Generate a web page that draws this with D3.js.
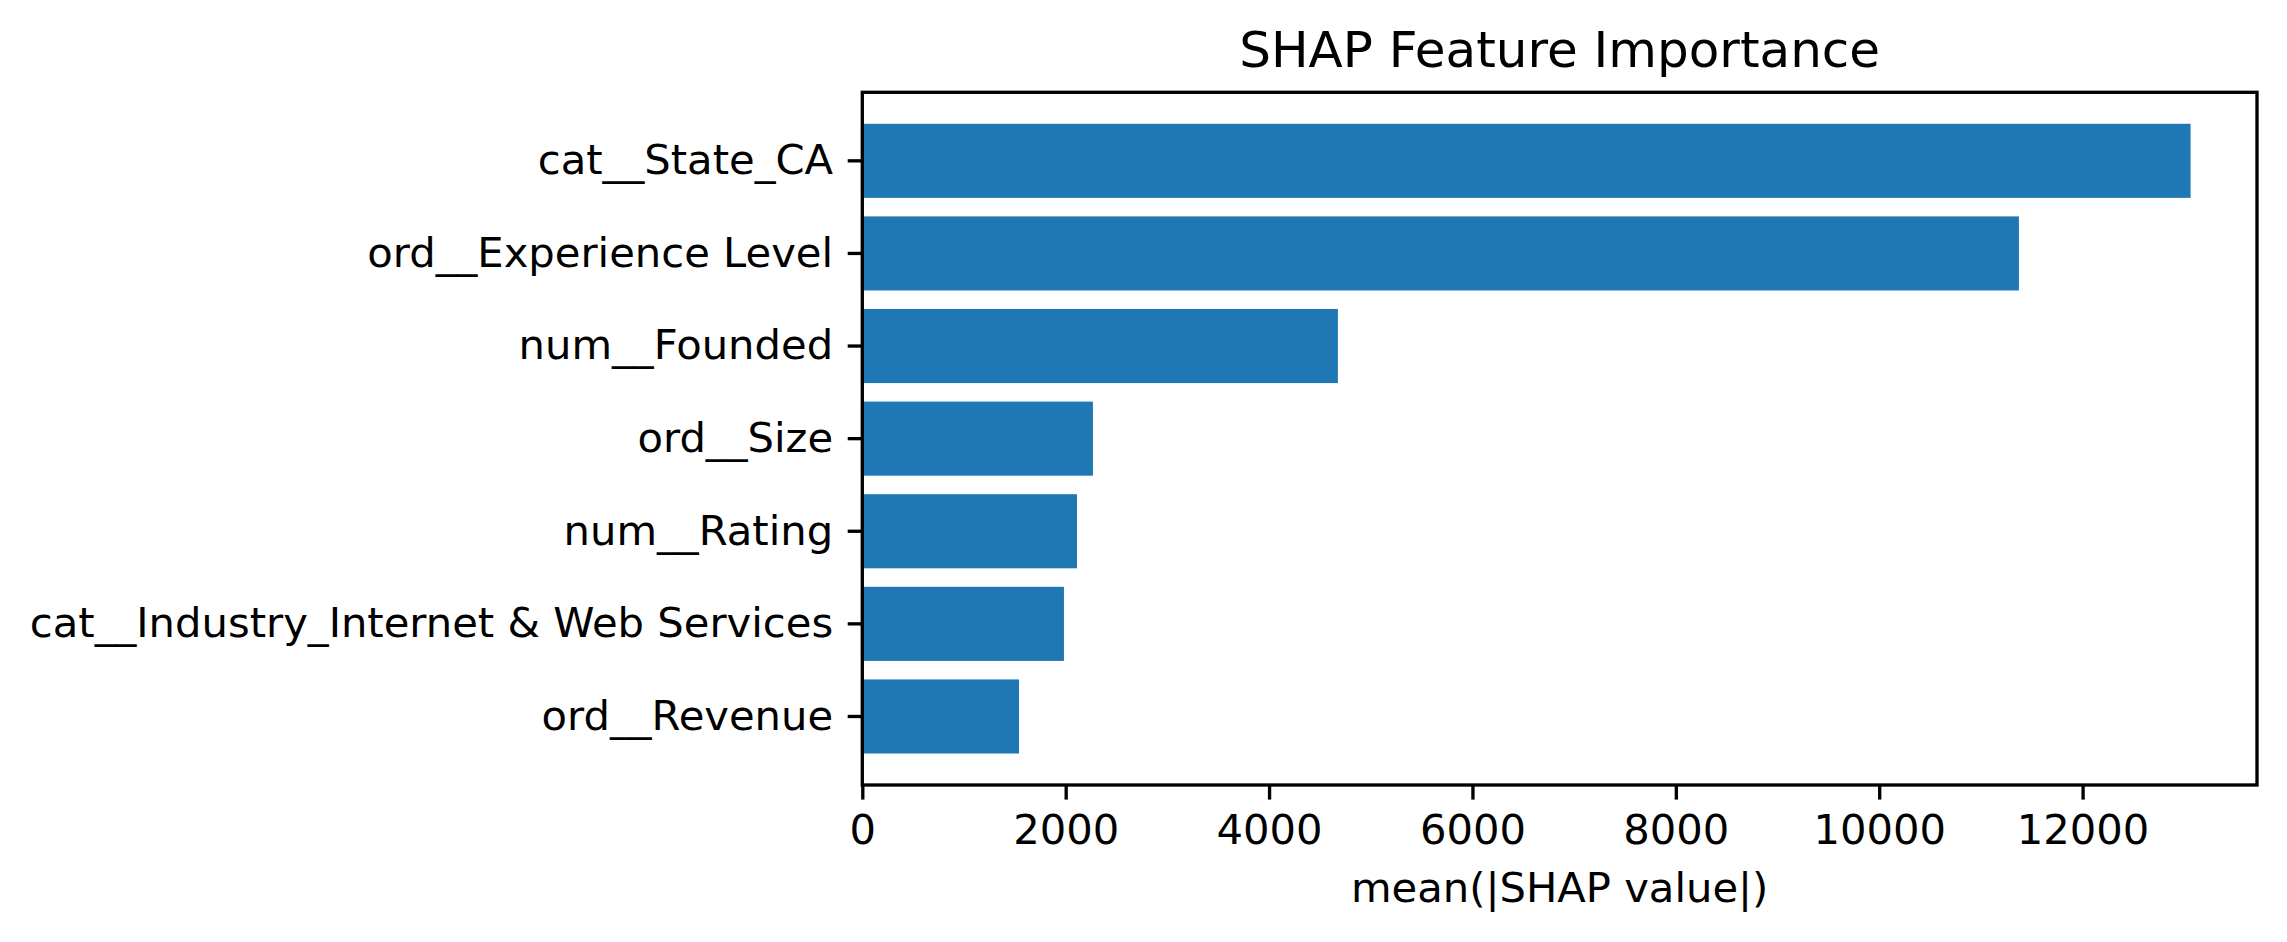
<!DOCTYPE html>
<html>
<head>
<meta charset="utf-8">
<script src="https://cdn.jsdelivr.net/npm/d3@7"></script>
<style>
  html, body { margin: 0; padding: 0; background: #fff; }
  text { font-family: "DejaVu Sans", sans-serif; fill: #000; }
</style>
</head>
<body>
<div id="chart"></div>
<script>
// feature names, top to bottom
var FEATURES = [
  'cat__State_CA',
  'ord__Experience Level',
  'num__Founded',
  'ord__Size',
  'num__Rating',
  'cat__Industry_Internet & Web Services',
  'ord__Revenue'
];
// mean(|SHAP value|) per feature
var VALUES = [13062, 11374, 4677, 2268, 2111, 1983, 1541];
var X_TICKS = [0, 2000, 4000, 6000, 8000, 10000, 12000];

var W = 2287, H = 942;
var margin = { top: 92.3, right: 30, bottom: 157, left: 862.3 };
var width = W - margin.left - margin.right;
var height = H - margin.top - margin.bottom;

var tickLen = 14.6, tickPad = 14.6, lw = 3.33;

var svg = d3.select('#chart').append('svg')
  .attr('width', W).attr('height', H);

var g = svg.append('g')
  .attr('transform', 'translate(' + margin.left + ',' + margin.top + ')');

var xMax = d3.max(VALUES) * 1.05;
var x = d3.scaleLinear().domain([0, xMax]).range([0, width]);

var y = d3.scaleBand()
  .domain(FEATURES)
  .range([0, height])
  .paddingInner(0.2)
  .paddingOuter(0.34);

// bars
g.selectAll('rect.bar')
  .data(FEATURES)
  .enter().append('rect')
  .attr('class', 'bar')
  .attr('x', x(0))
  .attr('y', function(d) { return y(d); })
  .attr('width', function(d, i) { return x(VALUES[i]) - x(0); })
  .attr('height', y.bandwidth())
  .attr('fill', '#1f77b4');

// x axis
g.append('g')
  .attr('transform', 'translate(0,' + height + ')')
  .call(d3.axisBottom(x).tickValues(X_TICKS).tickFormat(d3.format('d'))
    .tickSize(tickLen).tickSizeOuter(0).tickPadding(tickPad))
  .call(function(a) {
    a.select('.domain').remove();
    a.selectAll('line').attr('stroke', '#000').attr('stroke-width', lw);
    a.selectAll('text').attr('font-size', 41.7).attr('font-family', 'DejaVu Sans');
  });

// y axis
g.append('g')
  .call(d3.axisLeft(y).tickSize(tickLen).tickSizeOuter(0).tickPadding(tickPad))
  .call(function(a) {
    a.select('.domain').remove();
    a.selectAll('line').attr('stroke', '#000').attr('stroke-width', lw);
    a.selectAll('text').attr('font-size', 41.7).attr('font-family', 'DejaVu Sans');
  });

// spines
g.append('rect')
  .attr('x', 0).attr('y', 0)
  .attr('width', width).attr('height', height)
  .attr('fill', 'none')
  .attr('stroke', '#000')
  .attr('stroke-width', lw)
  .attr('stroke-linejoin', 'miter');

// title
g.append('text')
  .attr('x', width / 2).attr('y', -25)
  .attr('text-anchor', 'middle')
  .attr('font-size', 50)
  .text('SHAP Feature Importance');

// x label
g.append('text')
  .attr('x', width / 2).attr('y', height + 117.5)
  .attr('text-anchor', 'middle')
  .attr('font-size', 41.7)
  .text('mean(|SHAP value|)');
</script>
</body>
</html>
